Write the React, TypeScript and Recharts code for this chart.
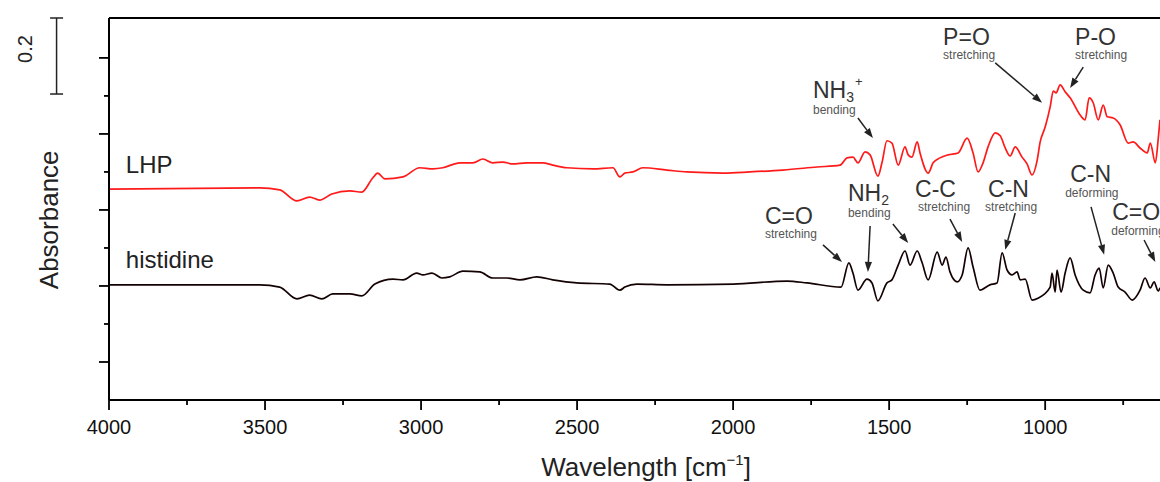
import React from 'react';
import { LineChart, Line, XAxis, YAxis, ReferenceLine, ReferenceDot } from 'recharts';

// ---- data (wavenumber in cm^-1, absorbance in a.u.) ----
const lhpWavenumber = [4000,3517,3453,3398,3357,3325,3286,3228,3190,3155,3139,3116,3058,3004,2962,2930,2876,2834,2802,2770,2738,2706,2661,2610,2578,2533,2449,2385,2363,2347,2321,2289,2212,2148,2032,1946,1840,1731,1657,1635,1616,1600,1577,1561,1536,1523,1507,1491,1471,1449,1439,1427,1410,1401,1375,1359,1337,1311,1279,1250,1231,1215,1199,1183,1160,1144,1128,1112,1096,1074,1058,1042,1026,1016,1000,984,974,965,952,936,920,888,872,859,846,830,814,801,782,760,734,718,696,673,663,647,638,632];
const lhpAbsorbance = [0.555,0.558,0.553,0.524,0.534,0.526,0.542,0.550,0.547,0.584,0.597,0.582,0.587,0.611,0.608,0.611,0.624,0.624,0.634,0.624,0.626,0.621,0.624,0.624,0.618,0.611,0.608,0.611,0.587,0.597,0.600,0.611,0.605,0.600,0.597,0.600,0.605,0.613,0.618,0.637,0.639,0.624,0.653,0.645,0.589,0.624,0.682,0.676,0.618,0.666,0.645,0.639,0.679,0.650,0.597,0.624,0.637,0.645,0.650,0.689,0.650,0.600,0.624,0.666,0.703,0.695,0.663,0.642,0.666,0.639,0.621,0.592,0.629,0.679,0.718,0.771,0.813,0.808,0.829,0.811,0.795,0.750,0.737,0.795,0.782,0.737,0.776,0.745,0.742,0.724,0.676,0.679,0.663,0.650,0.676,0.624,0.684,0.737];

const histidineWavenumber = [4000,3517,3453,3398,3357,3318,3283,3228,3190,3148,3090,3058,3014,2994,2965,2933,2908,2866,2812,2770,2725,2683,2629,2578,2501,2395,2363,2347,2308,2212,2000,1827,1763,1654,1629,1616,1600,1571,1555,1536,1507,1491,1471,1449,1433,1410,1395,1375,1346,1330,1318,1305,1282,1266,1247,1231,1209,1177,1154,1138,1122,1106,1090,1080,1064,1042,1023,984,978,968,962,949,936,920,904,878,856,840,827,814,798,782,766,744,721,696,680,663,651,638,632];
const histidineAbsorbance = [0.303,0.303,0.297,0.266,0.276,0.266,0.279,0.279,0.274,0.305,0.318,0.316,0.334,0.329,0.334,0.321,0.324,0.339,0.337,0.321,0.321,0.316,0.324,0.316,0.308,0.305,0.289,0.297,0.305,0.303,0.305,0.313,0.308,0.297,0.361,0.334,0.289,0.318,0.308,0.261,0.308,0.316,0.355,0.392,0.355,0.392,0.363,0.316,0.389,0.355,0.376,0.337,0.311,0.329,0.400,0.350,0.289,0.303,0.308,0.387,0.342,0.329,0.337,0.316,0.318,0.263,0.268,0.297,0.334,0.284,0.342,0.284,0.334,0.374,0.329,0.289,0.282,0.329,0.347,0.295,0.355,0.334,0.297,0.284,0.263,0.289,0.321,0.295,0.311,0.287,0.295];

const xTicks = [4000,3750,3500,3250,3000,2750,2500,2250,2000,1750,1500,1250,1000,750];
const xLabelledTicks = [4000,3500,3000,2500,2000,1500,1000];
const yTicks = [0.1,0.2,0.3,0.4,0.5,0.6,0.7,0.8,0.9];
const yMajorTicks = [0.1,0.3,0.5,0.7,0.9];

const X_MIN = 632;
const X_MAX = 4000;
const Y_MIN = 0;
const Y_MAX = 1.005;

const seriesNames = ['LHP', 'histidine'];
const seriesLabelW = [3946, 3946];
const seriesLabelA = [0.597, 0.347];

// annotation labels: main text, subscript, superscript, small note, anchor (w, a), note offsets
const noteMain = ['NH', 'P=O', 'P-O', 'C=O', 'NH', 'C-C', 'C-N', 'C-N', 'C=O'];
const noteSub = ['3', '', '', '', '2', '', '', '', ''];
const noteSup = ['+', '', '', '', '', '', '', '', ''];
const noteSmall = ['bending', 'stretching', 'stretching', 'stretching', 'bending', 'stretching', 'stretching', 'deforming', 'deforming'];
const noteW = [1744, 1327, 904, 1898, 1632, 1417, 1183, 920, 785];
const noteA = [0.795, 0.934, 0.934, 0.463, 0.523, 0.534, 0.534, 0.573, 0.473];
const noteDx = [0, 0, 0, 0, 0, 3, -3, -5, -1];
const noteDy = [16, 14, 14, 14, 16, 14, 14, 15, 15];

// arrows: from (w, a) to (w, a)
const arrowFromW = [1600, 1160, 878, 1712, 1561, 1488, 1305, 1096, 853, 683];
const arrowFromA = [0.742, 0.887, 0.876, 0.408, 0.458, 0.463, 0.476, 0.492, 0.508, 0.421];
const arrowToW = [1552, 1010, 920, 1651, 1568, 1439, 1266, 1128, 811, 647];
const arrowToA = [0.689, 0.782, 0.821, 0.363, 0.337, 0.413, 0.416, 0.395, 0.382, 0.363];

// scale bar (0.2 absorbance units) drawn outside the plot on the left
const scaleBarW = 4168;
const scaleBarTop = 1.005;
const scaleBarSize = 0.2;
const scaleBarLabel = '0.2';

const FONT = '"Liberation Sans", Arial, Helvetica, sans-serif';

const XTick = (props: any) => {
  const { x, y, payload } = props;
  const v = payload.value;
  const major = xLabelledTicks.includes(v);
  return (
    <g>
      <line x1={x} x2={x} y1={y} y2={y + (major ? 10 : 5)} stroke="#000" strokeWidth={1.8} />
      {major && (
        <text x={x} y={y + 34} textAnchor="middle" fontSize={20} fontFamily={FONT} fill="#111">
          {v}
        </text>
      )}
    </g>
  );
};

const YTick = (props: any) => {
  const { x, y, payload } = props;
  const v = Math.round(payload.value * 10) / 10;
  const major = yMajorTicks.includes(v);
  const len = major ? 10 : 5;
  return <line x1={x - len} x2={x} y1={y} y2={y} stroke="#000" strokeWidth={1.8} />;
};

const Arrow = (props: any) => {
  const { x1, y1, x2, y2 } = props;
  const ang = Math.atan2(y2 - y1, x2 - x1);
  const L = 10;
  const H = 3.6;
  const bx = x2 - L * Math.cos(ang);
  const by = y2 - L * Math.sin(ang);
  const px = -Math.sin(ang) * H;
  const py = Math.cos(ang) * H;
  return (
    <g>
      <line x1={x1} y1={y1} x2={bx} y2={by} stroke="#222" strokeWidth={1.5} />
      <polygon points={`${x2},${y2} ${bx + px},${by + py} ${bx - px},${by - py}`} fill="#222" />
    </g>
  );
};

const ScaleBar = (props: any) => {
  const { x1, y1, x2, y2 } = props;
  return (
    <g>
      <line x1={x1} y1={y1} x2={x2} y2={y2} stroke="#222" strokeWidth={1.5} />
      <line x1={x1 - 6.5} y1={y1} x2={x1 + 6.5} y2={y1} stroke="#222" strokeWidth={1.5} />
      <line x1={x2 - 6.5} y1={y2} x2={x2 + 6.5} y2={y2} stroke="#222" strokeWidth={1.5} />
      <text
        x={x1 - 25}
        y={Math.min(y1, y2) + 31}
        transform={`rotate(-90 ${x1 - 25} ${Math.min(y1, y2) + 31})`}
        textAnchor="middle"
        fontSize={20}
        fontFamily={FONT}
        fill="#222"
      >
        {scaleBarLabel}
      </text>
    </g>
  );
};

const makeNote = (i: number) => (props: any) => {
  const { cx, cy } = props;
  return (
    <g>
      <text x={cx} y={cy} fontSize={23} fontFamily={FONT} fill="#333">
        {noteMain[i]}
        {noteSub[i] && (
          <tspan fontSize={14} dy={4}>
            {noteSub[i]}
          </tspan>
        )}
        {noteSup[i] && (
          <tspan fontSize={13} dy={-16} dx={1}>
            {noteSup[i]}
          </tspan>
        )}
      </text>
      <text x={cx + noteDx[i]} y={cy + noteDy[i]} fontSize={12} fontFamily={FONT} fill="#555">
        {noteSmall[i]}
      </text>
    </g>
  );
};

const makeSeriesLabel = (i: number) => (props: any) => {
  const { cx, cy } = props;
  return (
    <text x={cx} y={cy} fontSize={24} fontFamily={FONT} fill="#222">
      {seriesNames[i]}
    </text>
  );
};

const yTitle = (props: any) => {
  const { cx, cy } = props;
  return (
    <text
      x={cx}
      y={cy}
      transform={`rotate(-90 ${cx} ${cy})`}
      textAnchor="middle"
      fontSize={26}
      fontFamily={FONT}
      fill="#222"
    >
      Absorbance
    </text>
  );
};

const xTitle = (props: any) => {
  const { cx, cy } = props;
  return (
    <text x={cx} y={cy} textAnchor="middle" fontSize={26} fontFamily={FONT} fill="#222">
      Wavelength [cm
      <tspan fontSize={15} dy={-11}>
        {'\u2212'}1
      </tspan>
      <tspan dy={11}>]</tspan>
    </text>
  );
};

export default function App() {
  const lhpData = lhpWavenumber.map((w, i) => ({ w, a: lhpAbsorbance[i] }));
  const histidineData = histidineWavenumber.map((w, i) => ({ w, a: histidineAbsorbance[i] }));

  return (
    <div
      style={{
        position: 'absolute',
        left: 0,
        top: 0,
        width: 1160,
        height: 482,
        overflow: 'hidden',
        background: '#fff',
        fontFamily: FONT,
      }}
    >
      <LineChart width={1160} height={482} margin={{ top: 18, right: 0, bottom: 0, left: 0 }}>
        <XAxis
          type="number"
          dataKey="w"
          domain={[X_MIN, X_MAX]}
          reversed
          allowDataOverflow
          ticks={xTicks}
          interval={0}
          tickSize={0}
          tickMargin={0}
          tickLine={false}
          axisLine={{ stroke: '#000', strokeWidth: 2 }}
          tick={XTick}
          height={82}
        />
        <YAxis
          type="number"
          domain={[Y_MIN, Y_MAX]}
          allowDataOverflow
          ticks={yTicks}
          interval={0}
          tickSize={0}
          tickMargin={0}
          tickLine={false}
          axisLine={{ stroke: '#000', strokeWidth: 2 }}
          tick={YTick}
          width={109}
        />
        <ReferenceLine y={Y_MAX} stroke="#000" strokeWidth={2} ifOverflow="visible" />
        <Line
          data={histidineData}
          dataKey="a"
          type="monotone"
          stroke="#140202"
          strokeWidth={1.7}
          dot={false}
          isAnimationActive={false}
        />
        <Line
          data={lhpData}
          dataKey="a"
          type="monotone"
          stroke="#ff1a1a"
          strokeWidth={1.7}
          dot={false}
          isAnimationActive={false}
        />
        {seriesNames.map((n, i) => (
          <ReferenceDot
            key={'s' + n}
            x={seriesLabelW[i]}
            y={seriesLabelA[i]}
            r={0}
            ifOverflow="visible"
            shape={makeSeriesLabel(i)}
          />
        ))}
        {noteMain.map((m, i) => (
          <ReferenceDot key={'n' + i} x={noteW[i]} y={noteA[i]} r={0} ifOverflow="visible" shape={makeNote(i)} />
        ))}
        {arrowFromW.map((w, i) => (
          <ReferenceLine
            key={'a' + i}
            segment={[
              { x: w, y: arrowFromA[i] },
              { x: arrowToW[i], y: arrowToA[i] },
            ]}
            ifOverflow="visible"
            shape={Arrow}
          />
        ))}
        <ReferenceLine
          segment={[
            { x: scaleBarW, y: scaleBarTop },
            { x: scaleBarW, y: scaleBarTop - scaleBarSize },
          ]}
          ifOverflow="visible"
          shape={ScaleBar}
        />
        <ReferenceDot x={4164} y={0.474} r={0} ifOverflow="visible" shape={yTitle} />
        <ReferenceDot x={2279} y={-0.2} r={0} ifOverflow="visible" shape={xTitle} />
      </LineChart>
    </div>
  );
}
